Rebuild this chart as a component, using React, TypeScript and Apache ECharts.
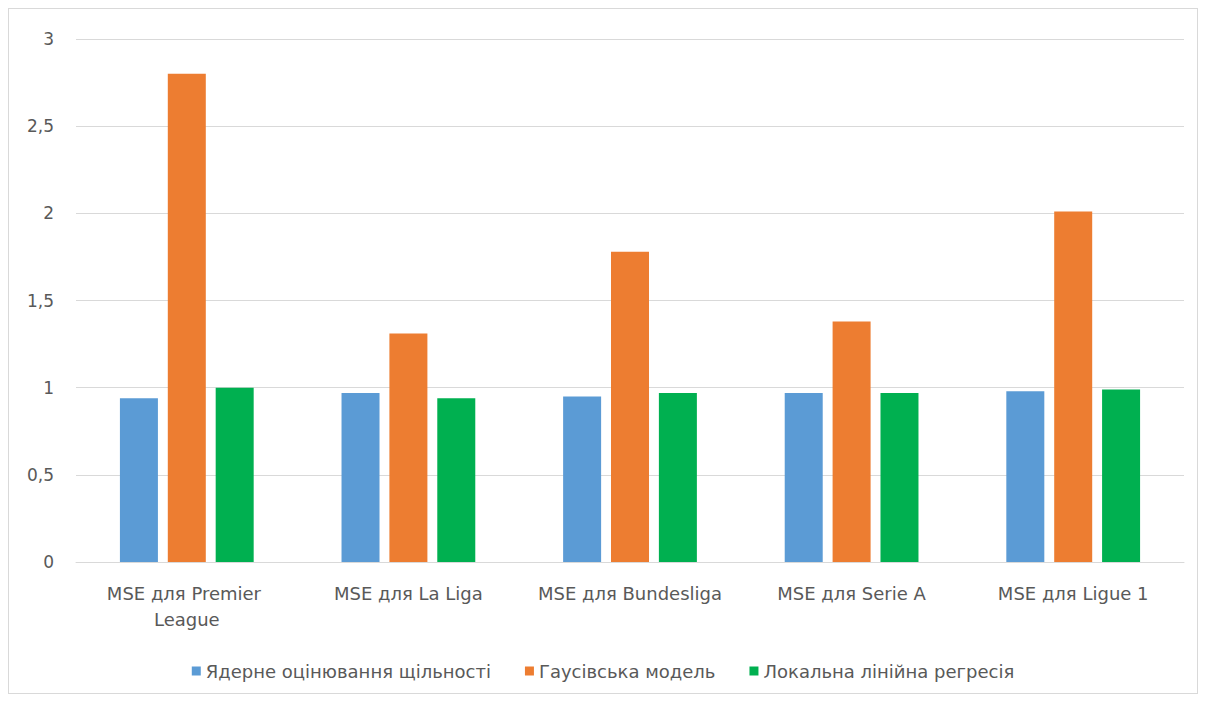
import React, { useEffect, useRef } from "react";
import * as echarts from "echarts";

const categories = [
  "MSE для Premier League",
  "MSE для La Liga",
  "MSE для Bundesliga",
  "MSE для Serie A",
  "MSE для Ligue 1",
];
const seriesNames = [
  "Ядерне оцінювання щільності",
  "Гаусівська модель",
  "Локальна лінійна регресія",
];
const kdeValues = [0.94, 0.97, 0.95, 0.97, 0.98];
const gaussValues = [2.8, 1.31, 1.78, 1.38, 2.01];
const llrValues = [1.0, 0.94, 0.97, 0.97, 0.99];
const colors = ["#5b9bd5", "#ed7d31", "#00b050"];

export default function App() {
  const ref = useRef<HTMLDivElement>(null);
  useEffect(() => {
    if (!ref.current) return;
    const chart = echarts.init(ref.current, undefined, { renderer: "svg" });
    const font = "'DejaVu Sans', 'Noto Sans', sans-serif";
    const data = [kdeValues, gaussValues, llrValues];
    chart.setOption({
      animation: false,
      color: colors,
      textStyle: { fontFamily: font },
      grid: { left: 67, right: 13, top: 30, bottom: 131, containLabel: false },
      legend: {
        bottom: 8,
        left: "center",
        itemWidth: 9,
        itemHeight: 9,
        itemGap: 34,
        icon: "rect",
        textStyle: { color: "#595959", fontSize: 18, fontFamily: font },
        data: seriesNames,
      },
      xAxis: {
        type: "category",
        data: categories,
        axisLine: { lineStyle: { color: "#d9d9d9", width: 1 } },
        axisTick: { show: false },
        axisLabel: {
          color: "#595959",
          fontSize: 18,
          margin: 18,
          width: 220,
          overflow: "break",
          lineHeight: 26,
          interval: 0,
          fontFamily: font,
        },
      },
      yAxis: {
        type: "value",
        min: 0,
        max: 3,
        interval: 0.5,
        axisLine: { show: false },
        axisTick: { show: false },
        splitLine: { lineStyle: { color: "#d9d9d9", width: 1 } },
        axisLabel: {
          color: "#595959",
          fontSize: 17,
          margin: 22,
          fontFamily: font,
          formatter: (v: number) => String(v).replace(".", ","),
        },
      },
      series: seriesNames.map((name, i) => ({
        name,
        type: "bar",
        data: data[i],
        barWidth: 38,
        barGap: "26%",
        itemStyle: { color: colors[i] },
      })),
    });
    return () => chart.dispose();
  }, []);
  return (
    <div
      ref={ref}
      style={{
        width: 1188,
        height: 684,
        border: "1px solid #d9d9d9",
        background: "#fff",
      }}
    />
  );
}
